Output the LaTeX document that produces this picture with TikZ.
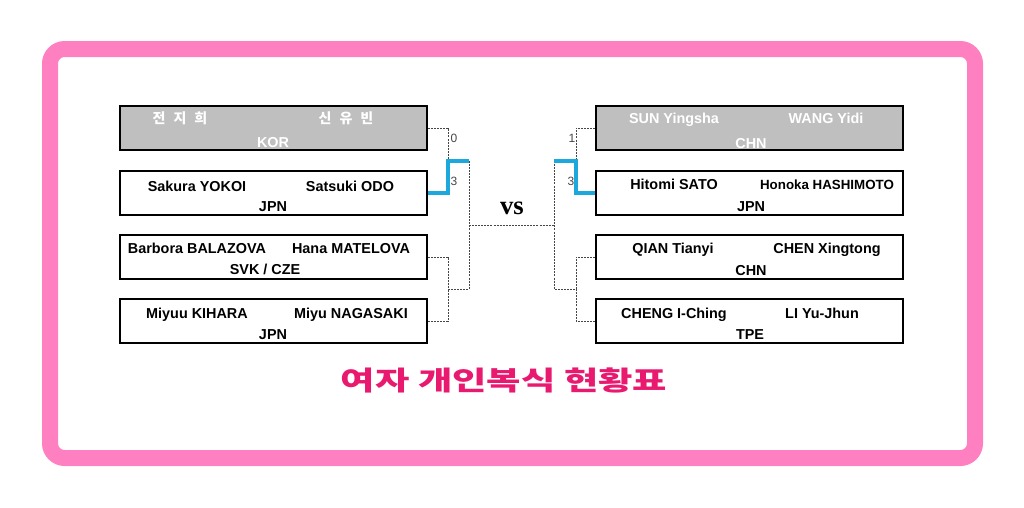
\documentclass[tikz,border=0pt]{standalone}
\usepackage{fontspec}
\usepackage{graphicx}
\setmainfont{Liberation Sans}
\newfontfamily\korfont{Noto Sans CJK KR}
\newfontfamily\vsfont{Liberation Serif}

\definecolor{framepink}{RGB}{255, 128, 192}
\definecolor{titlepink}{RGB}{233, 25, 112}
\definecolor{seedgray}{RGB}{191, 191, 191}
\definecolor{winblue}{RGB}{28, 168, 220}
\definecolor{linkgray}{RGB}{70, 70, 70}

\newcommand{\gap}{\hspace{6pt}}

\tikzset{
    team/.style = {draw, line width = 1.5pt, minimum width = 230pt, minimum height = 33pt, inner sep = 0pt},
    seed/.style = {team, fill = seedgray},
    player/.style = {anchor = base, inner sep = 0pt, font = \bfseries\fontsize{10.8}{12}\selectfont},
    korname/.style = {anchor = base, inner sep = 0pt, text = white, font = \korfont\bfseries\fontsize{10.5}{12}\selectfont},
    link/.style = {color = linkgray, line width = 0.7pt, dash pattern = on 1.5pt off 0.8pt},
    win/.style = {color = winblue, line width = 2.3pt},
    score/.style = {inner sep = 0pt, color = linkgray, font = \fontsize{9}{10}\selectfont}
}

\begin{document}
\begin{tikzpicture}[x = 0.75pt, y = -0.75pt]
                \useasboundingbox (0, 0) rectangle (1024, 507);
                \draw [color = framepink, line width = 12pt, rounded corners = 11pt] (50, 49) rectangle (975, 458);

                \node [seed] (l1) at (273.5, 128) {};
                \node [team] (l2) at (273.5, 193) {};
                \node [team] (l3) at (273.5, 257) {};
                \node [team] (l4) at (273.5, 321) {};

                \node [seed] (r1) at (749.5, 128) {};
                \node [team] (r2) at (749.5, 193) {};
                \node [team] (r3) at (749.5, 257) {};
                \node [team] (r4) at (749.5, 321) {};

                \node [korname] (l1a) at (180, 123) {전\gap 지\gap 희};
                \node [korname] (l1b) at (346, 123) {신\gap 유\gap 빈};
                \node [player, color = white] (l1n) at (273, 147) {KOR};

                \node [player] (l2a) at (197, 191) {Sakura YOKOI};
                \node [player] (l2b) at (350, 191) {Satsuki ODO};
                \node [player] (l2n) at (273, 211) {JPN};

                \node [player] (l3a) at (197, 253) {Barbora BALAZOVA};
                \node [player] (l3b) at (351, 253) {Hana MATELOVA};
                \node [player] (l3n) at (265, 274) {SVK / CZE};

                \node [player] (l4a) at (197, 318) {Miyuu KIHARA};
                \node [player] (l4b) at (351, 318) {Miyu NAGASAKI};
                \node [player] (l4n) at (273, 339) {JPN};

                \node [player, color = white] (r1a) at (674, 123) {SUN Yingsha};
                \node [player, color = white] (r1b) at (826, 123) {WANG Yidi};
                \node [player, color = white] (r1n) at (751, 148) {CHN};

                \node [player] (r2a) at (674, 189) {Hitomi SATO};
                \node [player, font = \bfseries\fontsize{10}{12}\selectfont] (r2b) at (827, 189) {Honoka HASHIMOTO};
                \node [player] (r2n) at (751, 211) {JPN};

                \node [player] (r3a) at (673, 253) {QIAN Tianyi};
                \node [player] (r3b) at (827, 253) {CHEN Xingtong};
                \node [player] (r3n) at (751, 275) {CHN};

                \node [player] (r4a) at (674, 318) {CHENG I-Ching};
                \node [player] (r4b) at (822, 318) {LI Yu-Jhun};
                \node [player] (r4n) at (750, 339) {TPE};

                \coordinate (lj1) at (448, 161);
                \coordinate (lj2) at (448, 289);
                \coordinate (lw1) at (469, 161);
                \coordinate (lw2) at (469, 289);
                \coordinate (lm) at (469, 225);
                \coordinate (rj1) at (576, 161);
                \coordinate (rj2) at (576, 289);
                \coordinate (rw1) at (554, 161);
                \coordinate (rw2) at (554, 289);
                \coordinate (rm) at (554, 225);

                \draw [link] (l1.east) -| (lj1);
                \draw [link] (l3.east) -| (lj2) -- (lw2);
                \draw [link] (l4.east) -| (lj2);
                \draw [link] (lw1) -- (lw2);
                \draw [link] (lm) -- (rm);
                \draw [link] (rw1) -- (rw2);
                \draw [link] (r1.west) -| (rj1);
                \draw [link] (r3.west) -| (rj2) -- (rw2);
                \draw [link] (r4.west) -| (rj2);
                \draw [win] (l2.east) -| (lj1) -- (lw1);
                \draw [win] (r2.west) -| (rj1) -- (rw1);

                \node [score] (s1) at (454, 138) {0};
                \node [score] (s2) at (454, 181) {3};
                \node [score] (s3) at (572, 138) {1};
                \node [score] (s4) at (571, 181) {3};

                \node [font = \vsfont\bfseries\fontsize{20}{22}\selectfont] (vs) at (512, 208) {vs};

                \node [color = titlepink, font = \korfont\bfseries\fontsize{20}{22}\selectfont] (title) at (504, 380) {\scalebox{1.4}[1]{여자 개인복식 현황표}};
\end{tikzpicture}
\end{document}
